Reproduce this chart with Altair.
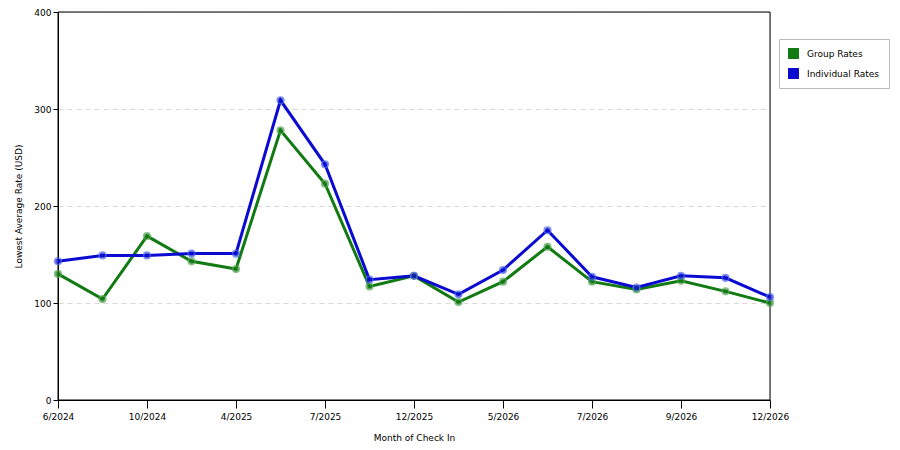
import altair as alt
import pandas as pd

months = ["6/2024", "8/2024", "10/2024", "1/2025", "4/2025", "5/2025", "7/2025",
          "9/2025", "12/2025", "2/2026", "5/2026", "6/2026", "7/2026", "8/2026",
          "9/2026", "11/2026", "12/2026"]
shown_months = ["6/2024", "10/2024", "4/2025", "7/2025", "12/2025", "5/2026",
                "7/2026", "9/2026", "12/2026"]
group_rates = [130, 104, 169, 143, 135, 278, 223, 117, 128, 101, 122, 158, 122,
               114, 123, 112, 100]
individual_rates = [143, 149, 149, 151, 151, 309, 243, 124, 128, 109, 134, 175,
                    127, 116, 128, 126, 106]
series_names = ["Group Rates", "Individual Rates"]
series_colors = ["#127a12", "#0a0ad0"]
point_strokes = ["#5aa85a", "#4a6ae8"]

rows = []
for i, m in enumerate(months):
    rows.append({"month": m, "order": i, "series": series_names[0], "rate": group_rates[i]})
    rows.append({"month": m, "order": i, "series": series_names[1], "rate": individual_rates[i]})
df = pd.DataFrame(rows)

font = "DejaVu Sans"

x_enc = alt.X("month:O", sort=months,
              scale=alt.Scale(type="point", padding=0),
              axis=alt.Axis(values=shown_months, labelAngle=0, title="Month of Check In",
                            tickSize=8, tickColor="black", domainColor="black",
                            labelPadding=4, titlePadding=12, grid=False,
                            labelFont=font, labelFontSize=9, labelColor="black",
                            titleFont=font, titleFontSize=9, titleFontWeight="normal",
                            titleColor="black"))
y_enc = alt.Y("rate:Q", scale=alt.Scale(domain=[0, 400]),
              axis=alt.Axis(values=[0, 100, 200, 300, 400], title="Lowest Average Rate (USD)",
                            tickSize=5, tickColor="black", domainColor="black",
                            labelPadding=2, titlePadding=10, grid=True,
                            gridColor="#d8d8d8", gridDash=[5, 4],
                            labelFont=font, labelFontSize=9, labelColor="black",
                            titleFont=font, titleFontSize=9, titleFontWeight="normal",
                            titleColor="black"))
color_enc = alt.Color("series:N", sort=series_names,
                      scale=alt.Scale(domain=series_names, range=series_colors),
                      legend=alt.Legend(title=None, orient="none", legendX=721, legendY=27,
                                        symbolType="square", symbolSize=120,
                                        symbolStrokeWidth=0, symbolOpacity=1,
                                        labelFont=font, labelFontSize=9, labelColor="black",
                                        strokeColor="#bbbbbb", fillColor="white",
                                        padding=9, rowPadding=9, labelOffset=8))

base = alt.Chart(df).encode(x=x_enc, y=y_enc, order="order:Q")

lines = base.mark_line(strokeWidth=3).encode(color=color_enc)
points = base.mark_point(filled=False, size=45, strokeWidth=1.5).encode(
    fill=alt.Color("series:N", scale=alt.Scale(domain=series_names, range=series_colors), legend=None),
    stroke=alt.Stroke("series:N", scale=alt.Scale(domain=series_names, range=point_strokes), legend=None),
)

frame = alt.Chart(pd.DataFrame({"k": [0]})).mark_rect(
    fill=None, stroke="black", strokeWidth=1
).encode(x=alt.value(0), x2=alt.value("width"), y=alt.value(0), y2=alt.value("height"))

chart = (frame + lines + points).properties(
    width=712, height=388,
    autosize=alt.AutoSizeParams(type="none"),
    padding={"left": 50, "top": 4, "right": 122, "bottom": 42},
).configure_view(stroke=None).configure(background="white")

chart.save("out.html", embed_options={"renderer": "svg", "actions": False})
